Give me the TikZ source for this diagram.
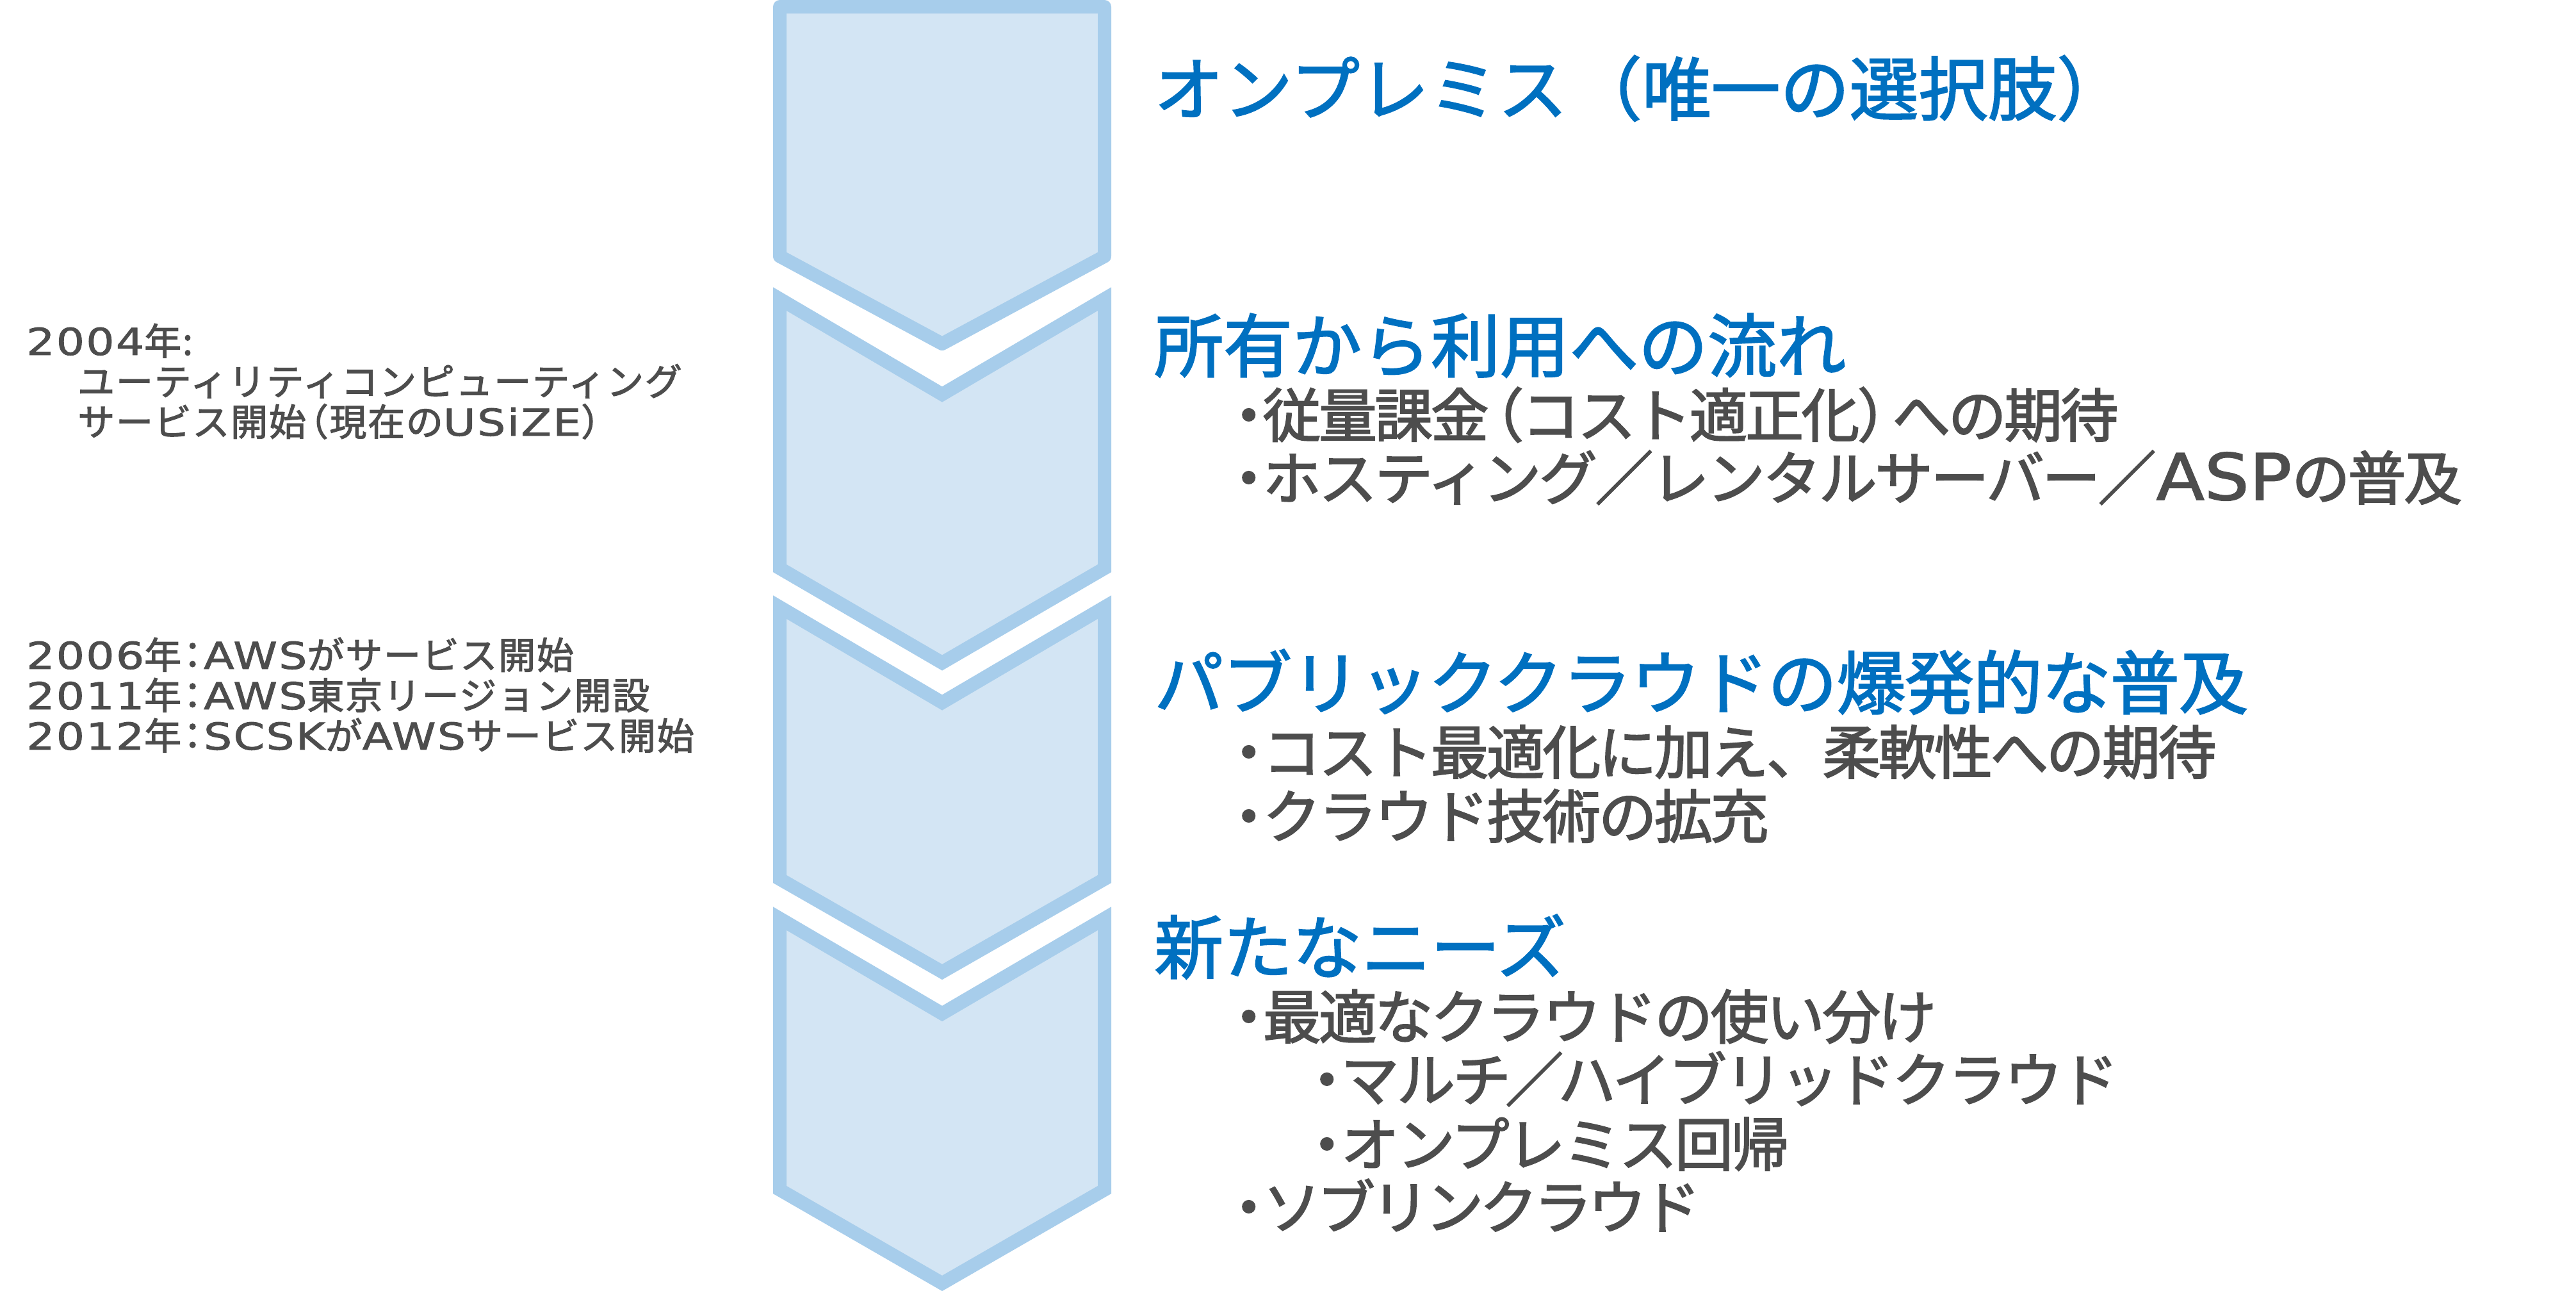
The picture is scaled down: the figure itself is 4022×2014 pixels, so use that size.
\documentclass[tikz,border=0pt]{standalone}
\usepackage{fontspec}
\setmainfont{Noto Sans CJK JP}[FakeBold=2]
\newfontfamily\wl{DejaVu Sans}[Scale=1.1,FakeStretch=1.1,FakeBold=1.5]
\newfontfamily\wlsmall{DejaVu Sans}[FakeStretch=1.2,FakeBold=1.5,LetterSpace=4]
\newfontfamily\tightjp{Noto Sans CJK JP}[FakeBold=2,LetterSpace=-4]
\newfontfamily\loosejp{Noto Sans CJK JP}[FakeBold=2,LetterSpace=3]
\newcommand\wlat[1]{{\wl #1}}
\newcommand\wls[1]{{\wlsmall #1}}
\newcommand\mydot{・\kern-0.26em}
\definecolor{chevline}{HTML}{A7CDEB}
\definecolor{chevfill}{HTML}{D3E5F4}
\definecolor{titleblue}{HTML}{0070C0}
\definecolor{textgray}{HTML}{4D4D4D}
\tikzset{
  chev/.style={draw=chevline, fill=chevfill, line width=21pt, line join=miter},
  ttl/.style={anchor=base west, inner sep=0pt, text=titleblue, font=\fontsize{108}{130}\selectfont},
  bul/.style={anchor=base west, inner sep=0pt, text=textgray, text height=72pt, text depth=12pt, font=\fontsize{91}{110}\selectfont\tightjp},
  lft/.style={anchor=base west, inner sep=0pt, text=textgray, align=left, font=\fontsize{58}{63}\selectfont\loosejp},
}
\begin{document}
\begin{tikzpicture}[x=1pt,y=-1pt]
\useasboundingbox (0,0) rectangle (4022,2014);
% chevrons
\draw[chev, line join=round] (1217.5,10.5) -- (1724.5,10.5) -- (1724.5,400) -- (1471,536.5) -- (1217.5,400) -- cycle;
\draw[chev] (1217.5,466.6) -- (1471,615.5) -- (1724.5,466.6) -- (1724.5,887) -- (1471,1034.5) -- (1217.5,887) -- cycle;
\draw[chev] (1217.5,947.6) -- (1471,1096.5) -- (1724.5,947.6) -- (1724.5,1372) -- (1471,1517) -- (1217.5,1372) -- cycle;
\draw[chev] (1217.5,1433.6) -- (1471,1582) -- (1724.5,1433.6) -- (1724.5,1857) -- (1471,2003) -- (1217.5,1857) -- cycle;
% titles
\node[ttl] (t1) at (1802,179) {オンプレミス\kern0.08em（唯一の選択肢）};
\node[ttl] (t2) at (1802,580) {所有から利用への流れ};
\node[ttl] (t3) at (1802,1106) {\addfontfeature{LetterSpace=-1}パブリッククラウドの爆発的な普及};
\node[ttl] (t4) at (1802,1519) {新たなニーズ};
% bullets
\node[bul] (b1) at (1904,682) {\mydot 従量課金\kern-0.4em（コスト適正化）\kern-0.4em への期待};
\node[bul] (b2) at (1904,780) {\mydot ホスティング／レンタルサーバー／\wlat{ASP}の普及};
\node[bul] (b3) at (1904,1208) {\mydot コスト最適化に加え、柔軟性への期待};
\node[bul] (b4) at (1904,1308) {\mydot クラウド技術の拡充};
\node[bul] (b5) at (1904,1621) {\mydot 最適なクラウドの使い分け};
\node[bul] (b6) at (2026,1719) {\mydot マルチ\kern-0.1em／\kern-0.1em ハイブリッドクラウド};
\node[bul] (b7) at (2026,1820) {\mydot オンプレミス回帰};
\node[bul] (b8) at (1904,1918) {\addfontfeature{LetterSpace=-7}\mydot ソブリンクラウド};
% left notes (anchor = baseline of the last line)
\node[lft] (l1) at (41,680) {\wls{2004}年:\\
  \hspace*{80pt}ユーティリティコンピューティング\\
  \hspace*{80pt}サービス開始\kern-0.4em（現在の\wls{USiZE}）};
\node[lft] (l4) at (41,1170) {\wls{2006}年\kern-0.2em：\kern-0.2em\wls{AWS}がサービス開始\\
  \wls{2011}年\kern-0.2em：\kern-0.2em\wls{AWS}東京リージョン開設\\
  \wls{2012}年\kern-0.2em：\kern-0.2em\wls{SCSK}が\wls{AWS}サービス開始};
\end{tikzpicture}
\end{document}
